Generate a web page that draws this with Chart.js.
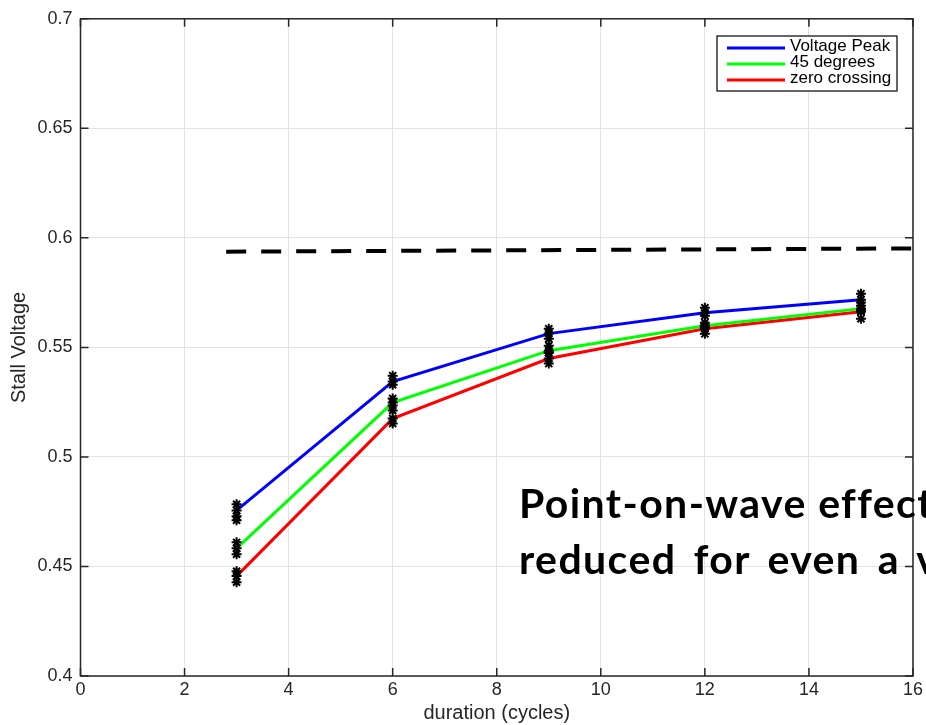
<!DOCTYPE html>
<html>
<head>
<meta charset="utf-8">
<script src="https://cdn.jsdelivr.net/npm/chart.js@4"></script>
<style>
  html, body { margin: 0; padding: 0; background: #fff; overflow: hidden; }
  #wrap { position: relative; width: 926px; height: 725px; overflow: hidden; }
  #note {
    position: absolute; left: 519px; top: 475px; white-space: nowrap;
    font-family: Lato, "Open Sans", sans-serif; font-weight: bold;
    font-size: 41px; line-height: 56px; color: #000; letter-spacing: 1.4px;
  }
  #note .l2 { word-spacing: 6px; }
</style>
</head>
<body>
<div id="wrap">
  <canvas id="chart" width="926" height="725"></canvas>
  <div id="note">Point-on-wave effect is<br><span class="l2">reduced for even a very</span></div>
</div>
<script>
// durations (cycles)
const durations = [3, 6, 9, 12, 15];

// mean stall voltage per series
const voltagePeak = [0.4756, 0.5344, 0.5563, 0.5658, 0.5718];
const deg45 = [0.4583, 0.5248, 0.5485, 0.5599, 0.5677];
const zeroCrossing = [0.4456, 0.5175, 0.5449, 0.5585, 0.5663];

// individual trial points (asterisks) per duration
const trialsPeak = [[0.4784, 0.4756, 0.4729, 0.4711], [0.5371, 0.5344, 0.5330], [0.5585, 0.5563, 0.5540], [0.5681, 0.5658, 0.5645], [0.5745, 0.5718, 0.5705]];
const trials45 = [[0.4610, 0.4583, 0.4556], [0.5267, 0.5248, 0.5235], [0.5508, 0.5485, 0.5476], [0.5613, 0.5599, 0.5590], [0.5690, 0.5677, 0.5665]];
const trialsZero = [[0.4478, 0.4456, 0.4428], [0.5212, 0.5175, 0.5153], [0.5476, 0.5449, 0.5426], [0.5600, 0.5585, 0.5562], [0.5670, 0.5663, 0.5631]];

// dashed reference line
const limitX = [2.8, 16];
const limitY = [0.5937, 0.5952];

const xTicks = [0, 2, 4, 6, 8, 10, 12, 14, 16];
const yTicks = [0.4, 0.45, 0.5, 0.55, 0.6, 0.65, 0.7];

const FONT = "'Liberation Sans', Arial, sans-serif";

const toPoints = (xs, ys) => xs.map((x, i) => ({ x: x, y: ys[i] }));
const trialPoints = (sets) => {
  const pts = [];
  sets.forEach((vals, i) => vals.forEach((v) => pts.push({ x: durations[i], y: v })));
  return pts;
};

const lineDs = (label, data, color) => ({
  label: label,
  data: toPoints(durations, data),
  showLine: true,
  borderColor: color,
  backgroundColor: color,
  borderWidth: 3,
  pointRadius: 0,
  order: 2,
});

const markerDs = (sets) => ({
  label: "",
  data: trialPoints(sets),
  showLine: false,
  pointStyle: "star",
  pointRadius: 5,
  borderColor: "#000",
  backgroundColor: "#000",
  pointBorderWidth: 2,
  order: 1,
});

const boxPlugin = {
  id: "box",
  afterDraw(chart) {
    const { ctx, chartArea: a, scales } = chart;
    ctx.save();
    ctx.strokeStyle = "#262626";
    ctx.lineWidth = 1.5;
    ctx.strokeRect(a.left, a.top, a.right - a.left, a.bottom - a.top);

    // inward tick marks on all four sides
    const tl = 8;
    ctx.beginPath();
    xTicks.forEach((v) => {
      const px = scales.x.getPixelForValue(v);
      ctx.moveTo(px, a.bottom); ctx.lineTo(px, a.bottom - tl);
      ctx.moveTo(px, a.top); ctx.lineTo(px, a.top + tl);
    });
    yTicks.forEach((v) => {
      const py = scales.y.getPixelForValue(v);
      ctx.moveTo(a.left, py); ctx.lineTo(a.left + tl, py);
      ctx.moveTo(a.right, py); ctx.lineTo(a.right - tl, py);
    });
    ctx.stroke();

    // legend
    const lx = 717, ly = 36, lw = 180, lh = 55;
    ctx.fillStyle = "#fff";
    ctx.fillRect(lx, ly, lw, lh);
    ctx.strokeStyle = "#000";
    ctx.lineWidth = 1.2;
    ctx.strokeRect(lx, ly, lw, lh);
    const items = chart.data.datasets.filter((d) => d.showLine && d.label && !d.hideInLegend);
    ctx.font = "17px " + FONT;
    ctx.textBaseline = "middle";
    items.forEach((d, i) => {
      const y = ly + 10.5 + i * 16;
      ctx.strokeStyle = d.borderColor;
      ctx.lineWidth = 3;
      ctx.beginPath();
      ctx.moveTo(lx + 10, y + 1.5);
      ctx.lineTo(lx + 68, y + 1.5);
      ctx.stroke();
      ctx.fillStyle = "#000";
      ctx.fillText(d.label, lx + 73, y);
    });
    ctx.restore();
  },
};

new Chart(document.getElementById("chart"), {
  type: "scatter",
  data: {
    datasets: [
      lineDs("Voltage Peak", voltagePeak, "#0000ff"),
      lineDs("45 degrees", deg45, "#00ff00"),
      lineDs("zero crossing", zeroCrossing, "#ff0000"),
      markerDs(trialsPeak),
      markerDs(trials45),
      markerDs(trialsZero),
      {
        label: "limit",
        hideInLegend: true,
        data: toPoints(limitX, limitY),
        showLine: true,
        borderColor: "#000",
        borderWidth: 4,
        borderDash: [20, 15],
        pointRadius: 0,
        order: 3,
      },
    ],
  },
  options: {
    responsive: false,
    animation: false,
    layout: { padding: { top: 17, right: 12, left: 0, bottom: 0 } },
    plugins: { legend: { display: false }, tooltip: { enabled: false } },
    scales: {
      x: {
        type: "linear",
        min: 0,
        max: 16,
        afterBuildTicks(s) { s.ticks = xTicks.map((v) => ({ value: v })); },
        ticks: {
          color: "#262626",
          font: { size: 18, family: FONT },
          padding: 3,
          maxRotation: 0,
        },
        grid: { color: "#e3e3e3", drawTicks: false },
        border: { display: false },
        title: {
          display: true,
          text: "duration (cycles)",
          color: "#262626",
          font: { size: 20, family: FONT },
          padding: { top: 0, bottom: 0 },
        },
        afterFit(s) { s.height = 49; },
      },
      y: {
        type: "linear",
        min: 0.4,
        max: 0.7,
        afterBuildTicks(s) { s.ticks = yTicks.map((v) => ({ value: v })); },
        ticks: {
          color: "#262626",
          font: { size: 18, family: FONT },
          padding: 8,
          callback: (v) => String(+v.toFixed(2)),
        },
        grid: { color: "#e3e3e3", drawTicks: false },
        border: { display: false },
        title: {
          display: true,
          text: "Stall Voltage",
          color: "#262626",
          font: { size: 20, family: FONT },
          padding: { top: 7, bottom: 4 },
        },
        afterFit(s) { s.width = 80.5; },
      },
    },
  },
  plugins: [boxPlugin],
});
</script>
</body>
</html>
